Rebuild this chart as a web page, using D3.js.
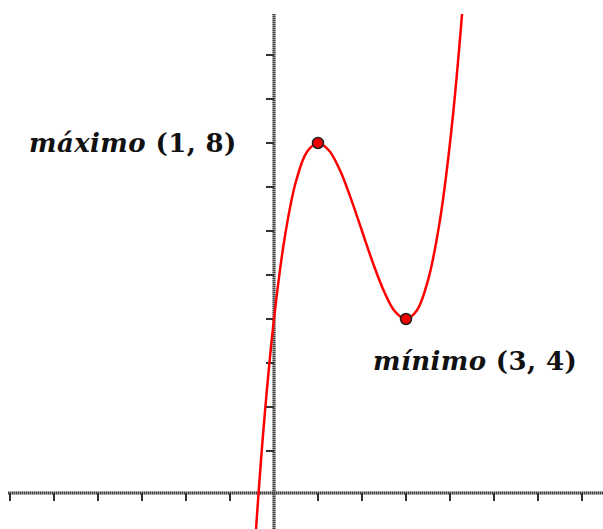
<!DOCTYPE html>
<html>
<head>
<meta charset="utf-8">
<script src="https://cdn.jsdelivr.net/npm/d3@7"></script>
<style>
	body { margin: 0; background: #fff; }
	svg { display: block; }
</style>
</head>
<body>
<div id="chart"></div>
<script>

// Curve samples
var curveX = [ -0.5, -0.25, 0, 0.25, 0.5, 0.75, 1, 1.25, 1.5, 1.75, 2, 2.25, 2.5, 2.75, 3, 3.25, 3.5, 3.75, 4, 4.25, 4.5 ];
var curveY = [ -2.13, 1.36, 4, 5.89, 7.13, 7.8, 8, 7.83, 7.38, 6.73, 6, 5.27, 4.63, 4.17, 4, 4.2, 4.88, 6.11, 8, 10.64, 14.13 ];

// Marked extrema
var markNames = [ "máximo", "mínimo" ];
var markX = [ 1, 3 ];
var markY = [ 8, 4 ];

// Tick values
var xTicks = [ -6, -5, -4, -3, -2, -1, 1, 2, 3, 4, 5, 6, 7 ];
var yTicks = [ 1, 2, 3, 4, 5, 6, 7, 8, 9, 10 ];

var width = 603;
var height = 529;

var svg = d3.select( "#chart" ).append( "svg" )
	.attr( "width", width )
	.attr( "height", height );

var scale = {
	x: d3.scaleLinear().domain( [ 0, 1 ] ).range( [ 274, 318 ] ),
	y: d3.scaleLinear().domain( [ 0, 10 ] ).range( [ 495, 55 ] )
};

var plotTop = 14;
var axisY = scale.y( 0 ) - 2;

// Axes: gray band with a darker stipple on top
//
var axisLines = [
	{ x1: 8, x2: width, y1: axisY, y2: axisY },
	{ x1: scale.x( 0 ), x2: scale.x( 0 ), y1: plotTop, y2: height }
];

[ [ "#999", null ], [ "#444", "1,1" ] ].forEach( function( style )
{
	svg.append( "g" ).selectAll( "line" )
		.data( axisLines )
		.enter()
		.append( "line" )
		.attr( "x1", function( d ) { return d.x1; } )
		.attr( "x2", function( d ) { return d.x2; } )
		.attr( "y1", function( d ) { return d.y1; } )
		.attr( "y2", function( d ) { return d.y2; } )
		.attr( "stroke", style[ 0 ] )
		.attr( "stroke-width", 3 )
		.attr( "stroke-dasharray", style[ 1 ] );
} );

svg.append( "g" ).selectAll( "line" )
	.data( xTicks )
	.enter()
	.append( "line" )
	.attr( "x1", function( d ) { return scale.x( d ); } )
	.attr( "x2", function( d ) { return scale.x( d ); } )
	.attr( "y1", axisY )
	.attr( "y2", axisY + 8 )
	.attr( "stroke", "#333" )
	.attr( "stroke-width", 2 );

svg.append( "g" ).selectAll( "line" )
	.data( yTicks )
	.enter()
	.append( "line" )
	.attr( "x1", scale.x( 0 ) - 8 )
	.attr( "x2", scale.x( 0 ) )
	.attr( "y1", function( d ) { return scale.y( d ); } )
	.attr( "y2", function( d ) { return scale.y( d ); } )
	.attr( "stroke", "#333" )
	.attr( "stroke-width", 2 );

// Curve
//
svg.append( "clipPath" )
	.attr( "id", "clip" )
	.append( "rect" )
	.attr( "x", 0 ).attr( "y", plotTop )
	.attr( "width", width ).attr( "height", height - plotTop );

var line = d3.line()
	.x( function( d, i ) { return scale.x( curveX[ i ] ); } )
	.y( function( d ) { return scale.y( d ); } )
	.curve( d3.curveCatmullRom );

svg.append( "path" )
	.datum( curveY )
	.attr( "clip-path", "url(#clip)" )
	.attr( "d", line )
	.attr( "fill", "none" )
	.attr( "stroke", "#f00" )
	.attr( "stroke-width", 2.5 );

// Extrema
//
svg.append( "g" ).selectAll( "circle" )
	.data( markX )
	.enter()
	.append( "circle" )
	.attr( "cx", function( d ) { return scale.x( d ); } )
	.attr( "cy", function( d, i ) { return scale.y( markY[ i ] ); } )
	.attr( "r", 5.5 )
	.attr( "fill", "#e00" )
	.attr( "stroke", "#222" )
	.attr( "stroke-width", 1.5 );

var labelPos = [ { x: 29, y: 152 }, { x: 373, y: 370 } ];

var labels = svg.append( "g" ).selectAll( "text" )
	.data( markNames )
	.enter()
	.append( "text" )
	.attr( "x", function( d, i ) { return labelPos[ i ].x; } )
	.attr( "y", function( d, i ) { return labelPos[ i ].y; } )
	.attr( "font-family", "'DejaVu Serif', serif" )
	.attr( "font-weight", "bold" )
	.attr( "font-size", 26 )
	.attr( "letter-spacing", 0.4 )
	.attr( "fill", "#111" );

labels.append( "tspan" )
	.attr( "font-style", "italic" )
	.text( function( d ) { return d; } );

labels.append( "tspan" )
	.text( function( d, i ) { return " (" + markX[ i ] + ", " + markY[ i ] + ")"; } );

</script>
</body>
</html>
